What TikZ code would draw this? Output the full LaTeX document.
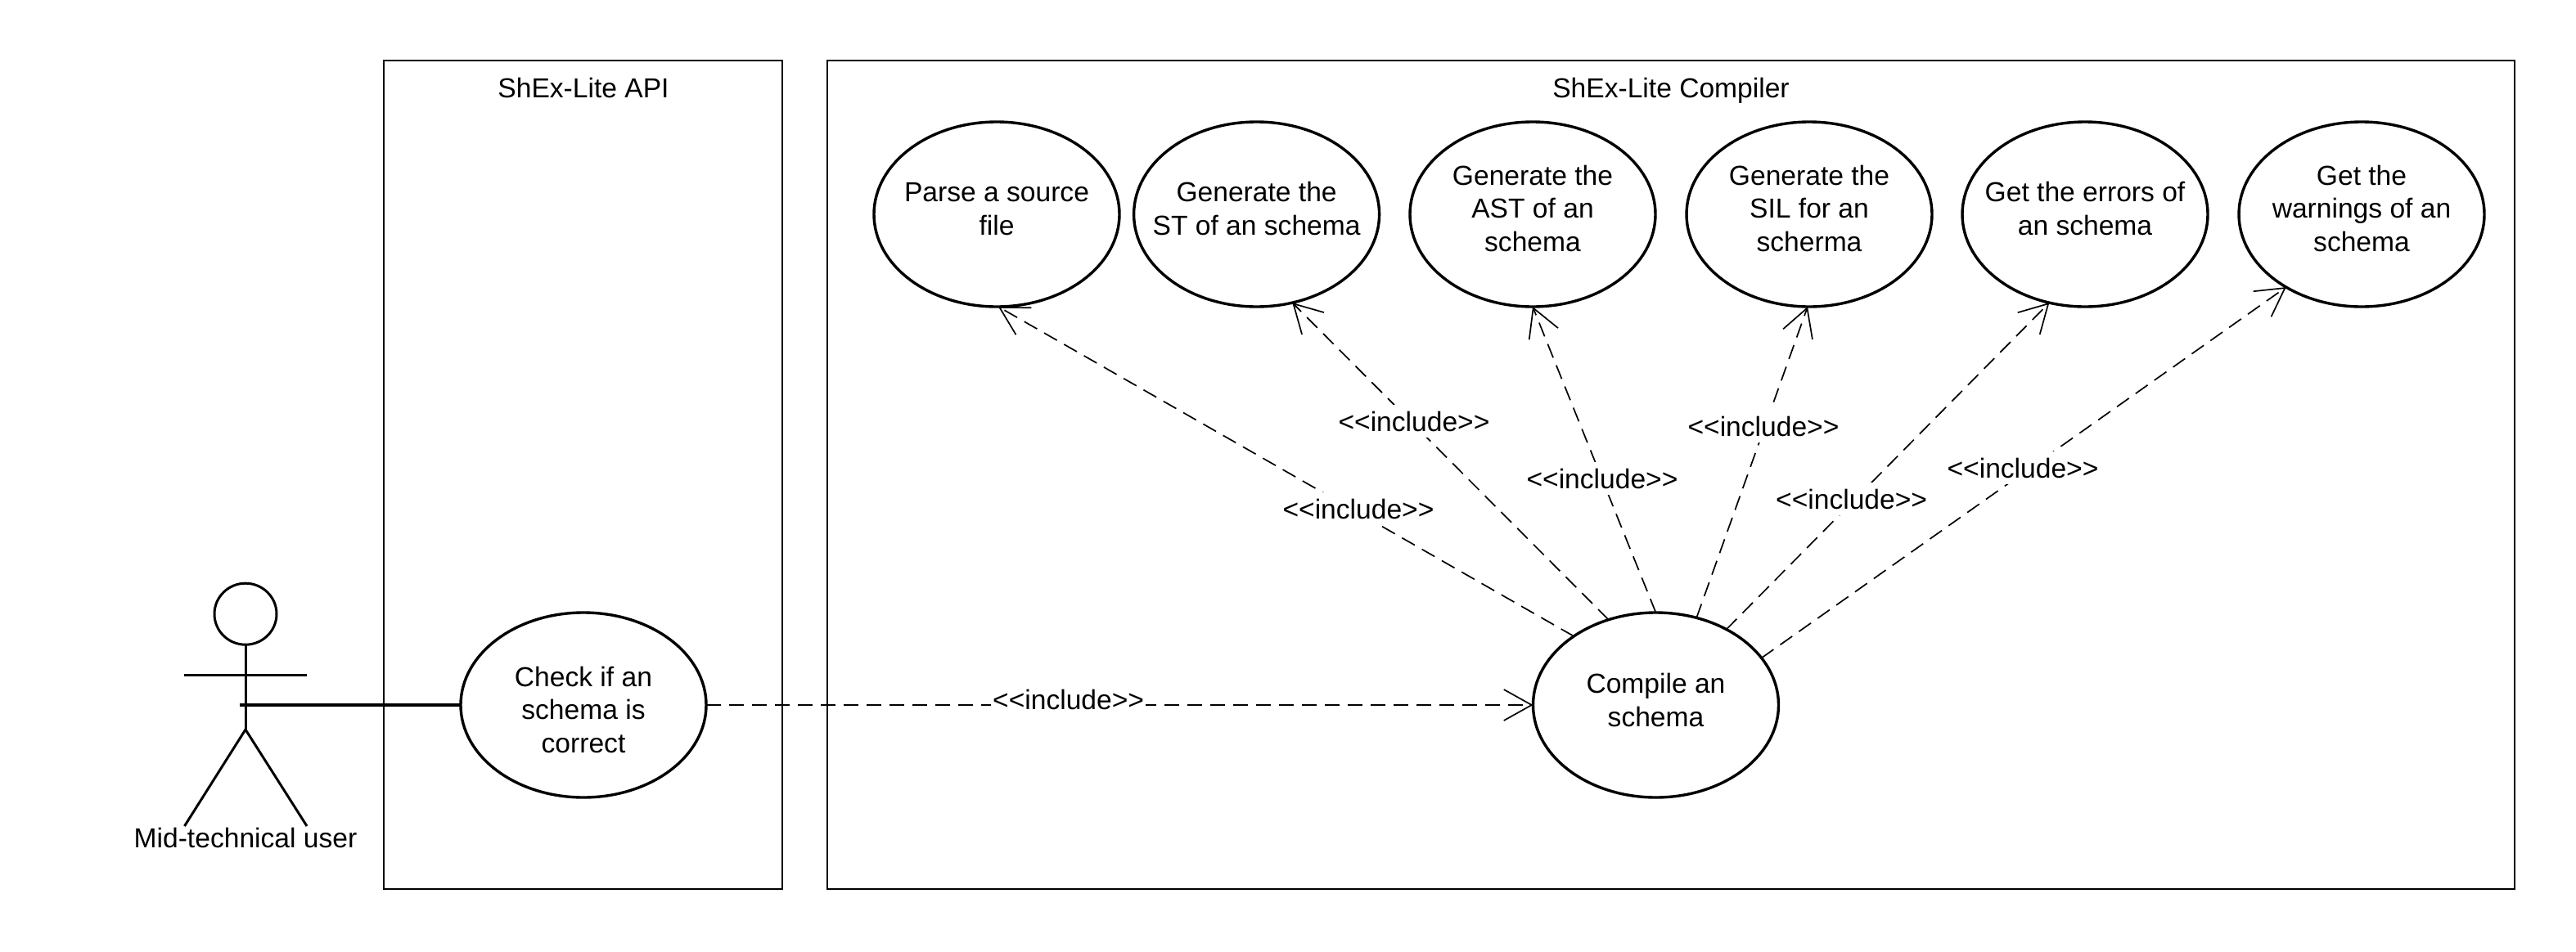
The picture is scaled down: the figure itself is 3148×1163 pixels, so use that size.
\documentclass[tikz,border=0pt]{standalone}
\usepackage{fontspec}
\setmainfont{Liberation Sans}
\usetikzlibrary{shapes.geometric,arrows.meta}
% text of a use case: no influence on the size of the ellipse; #1 = raise in pt
\newcommand{\uctext}[2]{\makebox[0pt]{\raisebox{\dimexpr#1pt-4.2pt}[0pt][0pt]{\begin{tabular}{@{}c@{}}#2\end{tabular}}}}
\tikzset{
  txt/.style={font=\fontsize{16.8}{20.2}\selectfont,text=black},
  panel/.style={draw=black,line width=1.1pt,rectangle,inner sep=0pt,outer sep=0pt,minimum height=506.5pt},
  usecase/.style={txt,draw=black,line width=1.7pt,ellipse,inner sep=0pt,outer sep=0pt,minimum width=150pt,minimum height=113pt},
  incl/.style={draw=black,line width=0.85pt,dash pattern=on 9pt off 5pt,-{Straight Barb[length=17pt,width=19pt,line width=0.85pt]}},
  incltext/.style={txt,fill=white,inner sep=1pt,minimum height=20pt},
  titletext/.style={txt,anchor=base,inner sep=0pt},
  limb/.style={draw=black,line width=1.5pt},
  assoc/.style={draw=black,line width=2.1pt}
}
\begin{document}
\begin{tikzpicture}[x=0.5pt,y=-0.5pt]
\useasboundingbox (0,0) rectangle (3148,1163);
% system boundaries
\node[panel,minimum width=243.5pt] (api) at (712.5,580.5) {};
\node[panel,minimum width=1031pt] (compiler) at (2042,580.5) {};
\node[titletext] (apititle) at (713,119) {ShEx-Lite API};
\node[titletext] (comptitle) at (2042,119) {ShEx-Lite Compiler};
% use cases
\node[usecase] (parse) at (1218,262) {\uctext{1.5}{Parse a source\\file}};
\node[usecase] (st) at (1535.6,262) {\uctext{1.5}{Generate the\\ST of an schema}};
\node[usecase] (ast) at (1873,262) {\uctext{1.5}{Generate the\\AST of an\\schema}};
\node[usecase] (sil) at (2211,262) {\uctext{1.5}{Generate the\\SIL for an\\scherma}};
\node[usecase] (err) at (2548,262) {\uctext{1.5}{Get the errors of\\an schema}};
\node[usecase] (warn) at (2886,262) {\uctext{1.5}{Get the\\warnings of an\\schema}};
\node[usecase] (comp) at (2023.5,862) {\uctext{1}{Compile an\\schema}};
\node[usecase] (check) at (713,862) {\uctext{-5}{Check if an\\schema is\\correct}};
% actor
\node[draw=black,line width=1.5pt,ellipse,inner sep=0pt,outer sep=0pt,minimum width=38pt,minimum height=37.5pt] (head) at (300,750.7) {};
\coordinate (hip) at (300,892);
\coordinate (handl) at (225,825);
\coordinate (handr) at (375,825);
\coordinate (footl) at (225.5,1010);
\coordinate (footr) at (375,1010);
\coordinate (joint) at (293,862);
\draw[limb] (head.south) -- (hip);
\draw[limb] (handl) -- (handr);
\draw[limb] (footl) -- (hip) -- (footr);
\node[txt,inner sep=0pt] (actorname) at (300,1024) {Mid-technical user};
\draw[assoc] (joint) -- (check.west);
% include connectors
\draw[incl] (check.east) -- (comp.west);
\draw[incl] (comp.140) -- (parse.-89);
\draw[incl] (comp.119.5) -- (st.-68.3);
\draw[incl] (comp.90.9) -- (ast.-90);
\draw[incl] (comp.65.1) -- (sil.-91);
\draw[incl] (comp.47.4) -- (err.-112.3);
\draw[incl] (comp.24.2) -- (warn.-136.5);
% labels
\node[incltext] (l1) at (1660,622) {<{}<include>{}>};
\node[incltext] (l2) at (1728,515) {<{}<include>{}>};
\node[incltext] (l3) at (1958,585) {<{}<include>{}>};
\node[incltext] (l4) at (2155,521) {<{}<include>{}>};
\node[incltext] (l5) at (2262.6,610) {<{}<include>{}>};
\node[incltext] (l6) at (2472,572) {<{}<include>{}>};
\node[incltext] (l7) at (1305.6,855) {<{}<include>{}>};
\end{tikzpicture}
\end{document}
